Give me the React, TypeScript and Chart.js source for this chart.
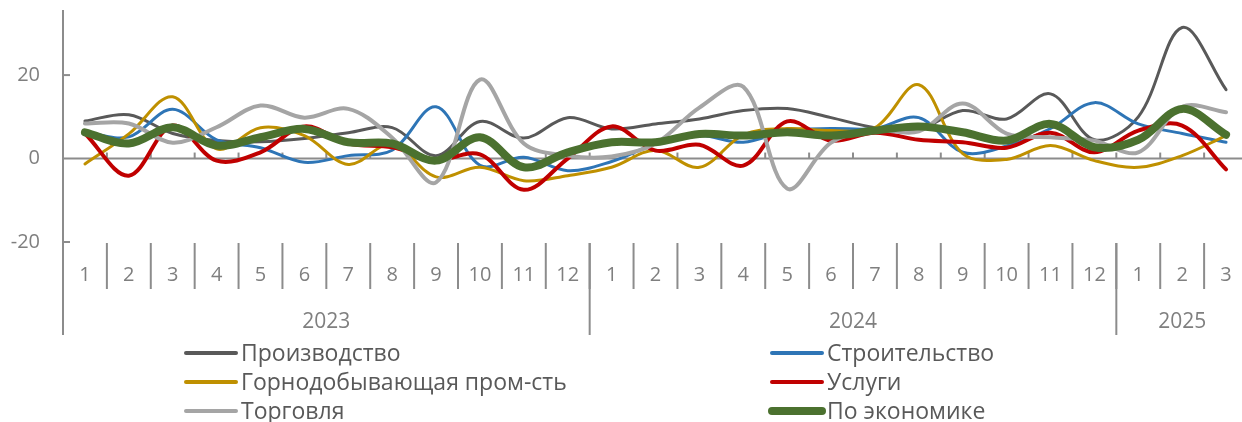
import React, { useEffect, useRef } from 'react';
import { Chart, registerables } from 'chart.js';

Chart.register(...registerables);

// ---- data ----
const monthLabels = ['1','2','3','4','5','6','7','8','9','10','11','12','1','2','3','4','5','6','7','8','9','10','11','12','1','2','3'];
const yearLabels = ['2023', '2024', '2025'];
const yearSpans = [12, 12, 3];
const yTickValues = [-20, 0, 20];

const proizvodstvo = [9, 10.5, 6, 4.3, 4, 4.8, 6.2, 7.4, 0.7, 8.9, 4.9, 9.8, 7.1, 8.3, 9.5, 11.5, 12, 9.8, 7.4, 7, 11.5, 9.5, 15.5, 4.5, 10, 31.4, 16.5];
const stroitelstvo = [6.3, 5.2, 11.8, 4.5, 2.6, -0.9, 0.7, 2, 12.4, -1.6, 0.3, -2.9, -0.7, 3.5, 5.5, 3.9, 6.7, 7.2, 7.2, 9.8, 1.5, 3, 7.2, 13.4, 8.3, 6, 3.9];
const gornodob = [-1.3, 5.9, 14.8, 2.3, 7.4, 5.5, -1.4, 3.5, -4.4, -2.1, -5.3, -4.1, -2.1, 2, -2.1, 5.7, 7.2, 6.7, 7.4, 17.7, 1.2, -0.2, 3.1, -0.5, -2.1, 0.7, 5.5];
const uslugi = [6, -4.1, 7.9, -0.5, 1.5, 7.7, 3.6, 2.7, -0.3, 1.0, -7.5, 0, 7.7, 1.9, 3.3, -1.7, 8.9, 4.3, 6.2, 4.5, 3.9, 2.6, 6.2, 1.5, 6.7, 7.9, -2.6];
const torgovlya = [8.4, 8.4, 3.8, 7.5, 12.7, 9.8, 11.9, 5, -5.7, 18.9, 3.6, 0.7, 0.5, 3.6, 12.2, 17.2, -7.2, 3.8, 6.7, 6.5, 13.2, 6, 5.1, 4.3, 1.5, 12.4, 11.1];
const ekonomika = [6.3, 3.6, 7.5, 3.1, 5.1, 7.1, 3.9, 3.6, -0.5, 5.1, -2.1, 1.5, 3.9, 3.9, 5.9, 5.5, 6.3, 5.5, 6.7, 7.7, 6.3, 4.3, 8.3, 2.7, 4.5, 11.9, 5.7];

const seriesNames = ['Производство', 'Строительство', 'Горнодобывающая пром-сть', 'Услуги', 'Торговля', 'По экономике'];
const seriesValues = [proizvodstvo, stroitelstvo, gornodob, uslugi, torgovlya, ekonomika];
const seriesColors = ['#595959', '#2E75B6', '#BF9000', '#C00000', '#A5A5A5', '#4B712F'];
const seriesWidths = [3, 3, 3, 4, 4, 8];

const AXIS_COLOR = '#8C8C8C';
const LABEL_COLOR = '#7F7F7F';
const LEGEND_COLOR = '#595959';
const FONT = '"Open Sans", sans-serif';

const axesPlugin = {
  id: 'customAxes',
  beforeDatasetsDraw(chart: any) {
    const { ctx, chartArea, scales } = chart;
    const xs = scales.x;
    const ys = scales.y;
    const left = chartArea.left;
    const right = chartArea.right;
    const bottom = chartArea.bottom;
    const n = monthLabels.length;
    const w = (right - left) / n;
    const y0 = ys.getPixelForValue(0);
    const monthBottom = bottom + 47;
    const yearBottom = bottom + 93;

    ctx.save();
    ctx.strokeStyle = AXIS_COLOR;
    ctx.lineWidth = 2;
    const line = (x1: number, y1: number, x2: number, y2: number) => {
      ctx.beginPath();
      ctx.moveTo(x1, y1);
      ctx.lineTo(x2, y2);
      ctx.stroke();
    };
    // y axis line (extends through category labels)
    line(left, chartArea.top, left, yearBottom);
    // y ticks and labels
    ctx.fillStyle = LABEL_COLOR;
    ctx.font = `20px ${FONT}`;
    ctx.textAlign = 'right';
    ctx.textBaseline = 'middle';
    yTickValues.forEach((v) => {
      const py = ys.getPixelForValue(v);
      if (v !== 0) line(left, py, left + 7, py);
      ctx.fillText(String(v), left - 23, py);
    });
    // x axis at zero
    line(left, y0, right + 20, y0);
    for (let i = 1; i < n; i++) {
      const bx = xs.getPixelForValue(i) - w / 2;
      line(bx, y0, bx, y0 - 6);
    }
    // month separators and labels
    ctx.textAlign = 'center';
    for (let i = 0; i < n; i++) {
      const cx = xs.getPixelForValue(i);
      if (i > 0) line(cx - w / 2, bottom + 1, cx - w / 2, monthBottom);
      ctx.fillText(monthLabels[i], cx, bottom + 33);
    }
    // year separators and labels
    let start = 0;
    ctx.font = `21px ${FONT}`;
    yearLabels.forEach((lab, k) => {
      const end = start + yearSpans[k];
      const x1 = xs.getPixelForValue(start) - w / 2;
      const x2 = xs.getPixelForValue(end - 1) + w / 2;
      if (k > 0) line(x1, bottom + 1, x1, yearBottom);
      ctx.fillText(lab, (x1 + x2) / 2, bottom + 80);
      start = end;
    });
    ctx.restore();
  },
  afterDraw(chart: any) {
    const { ctx } = chart;
    ctx.save();
    ctx.font = `23px ${FONT}`;
    ctx.textAlign = 'left';
    ctx.textBaseline = 'middle';
    const cols = [183, 769];
    const rows = [353, 382, 411];
    seriesNames.forEach((name, i) => {
      const cx = cols[i % 2];
      const cy = rows[Math.floor(i / 2)];
      ctx.strokeStyle = seriesColors[i];
      ctx.lineWidth = i === 5 ? 8 : 4;
      ctx.lineCap = 'round';
      ctx.beginPath();
      ctx.moveTo(cx + 3, cy);
      ctx.lineTo(cx + 53, cy);
      ctx.stroke();
      ctx.fillStyle = LEGEND_COLOR;
      ctx.fillText(name, cx + 58, cy + 1);
    });
    ctx.restore();
  },
};

export default function App() {
  const canvasRef = useRef<HTMLCanvasElement | null>(null);

  useEffect(() => {
    const canvas = canvasRef.current;
    if (!canvas) return;
    const chart = new Chart(canvas, {
      type: 'line',
      data: {
        labels: monthLabels.map((m, i) => `${i}-${m}`),
        datasets: seriesNames.map((name, i) => ({
          label: name,
          data: seriesValues[i],
          borderColor: seriesColors[i],
          backgroundColor: seriesColors[i],
          borderWidth: seriesWidths[i],
          pointRadius: 0,
          pointHoverRadius: 0,
          tension: 0.35,
          fill: false,
          borderCapStyle: 'round',
          borderJoinStyle: 'round',
          order: seriesNames.length - i,
        })),
      },
      options: {
        responsive: false,
        animation: false,
        devicePixelRatio: 1,
        layout: { padding: { left: 63, right: 12, top: 10, bottom: 180 } },
        plugins: { legend: { display: false }, tooltip: { enabled: false } },
        scales: {
          x: { type: 'category', display: false, offset: true },
          y: { type: 'linear', display: false, min: -20, max: 35.6 },
        },
      },
      plugins: [axesPlugin],
    });
    return () => chart.destroy();
  }, []);

  return (
    <div style={{ position: 'fixed', left: 0, top: 0, width: 1242, height: 422, overflow: 'hidden', background: '#fff' }}>
      <canvas ref={canvasRef} width={1260} height={422} style={{ width: 1260, height: 422, display: 'block' }} />
    </div>
  );
}
